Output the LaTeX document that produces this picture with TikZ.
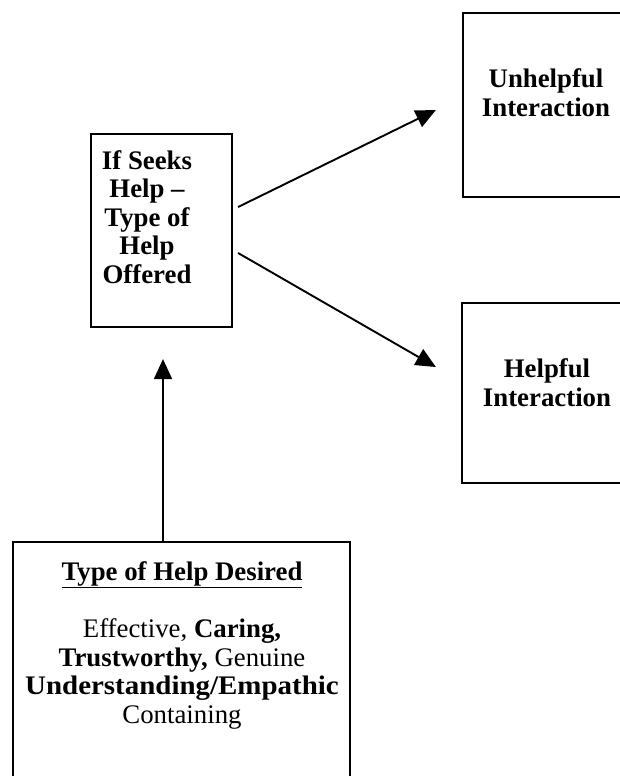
\documentclass[tikz,border=0pt]{standalone}
\usepackage{fontspec}
\usepackage{graphicx}
\setmainfont{Liberation Serif}
\usetikzlibrary{arrows.meta}
\begin{document}
\begin{tikzpicture}[x=1pt,y=-1pt,
  box/.style={draw, line width=2.2pt, inner sep=0pt},
  txt/.style={font=\fontsize{26.8}{28.5}\selectfont\bfseries, align=center, inner sep=0pt, anchor=base},
  body/.style={font=\fontsize{26.8}{28.5}\selectfont, align=center, inner sep=0pt, anchor=base},
  arr/.style={line width=1.9pt, -{Triangle[length=20pt,width=18pt]}}]
\useasboundingbox (0,0) rectangle (619,776);
\node[box, minimum width=141pt, minimum height=193pt] (mid) at (161.5,230.5) {};
\node[box, minimum width=187pt, minimum height=184pt] (unh) at (556.5,105) {};
\node[box, minimum width=188pt, minimum height=180pt] (hel) at (556,393) {};
\node[box, minimum width=337pt, minimum height=258pt] (bot) at (181.5,671) {};
\node[txt] (midt) at (147,283) {If Seeks\\Help --\\Type of\\Help\\Offered};
\node[txt] (unht) at (546,116) {Unhelpful\\Interaction};
\node[txt] (helt) at (547,406) {Helpful\\Interaction};
\node[body] (bott) at (182,723) {\textbf{\underline{Type of Help Desired}}\\[28.5pt]
Effective, \textbf{Caring,}\\
\textbf{Trustworthy,} Genuine\\
\scalebox{1.08}[1]{\textbf{Understanding/Empathic}}\\
Containing};
\draw[arr] ([xshift=-18.5pt]bot.north) -- ([xshift=1.5pt,yshift=-31pt]mid.south);
\draw[arr] ([xshift=5pt,yshift=23.5pt]mid.east) -- ([xshift=-26pt,yshift=-5pt]unh.west);
\draw[arr] ([xshift=5pt,yshift=-22.5pt]mid.east) -- ([xshift=-25pt,yshift=26pt]hel.west);
\end{tikzpicture}
\end{document}
